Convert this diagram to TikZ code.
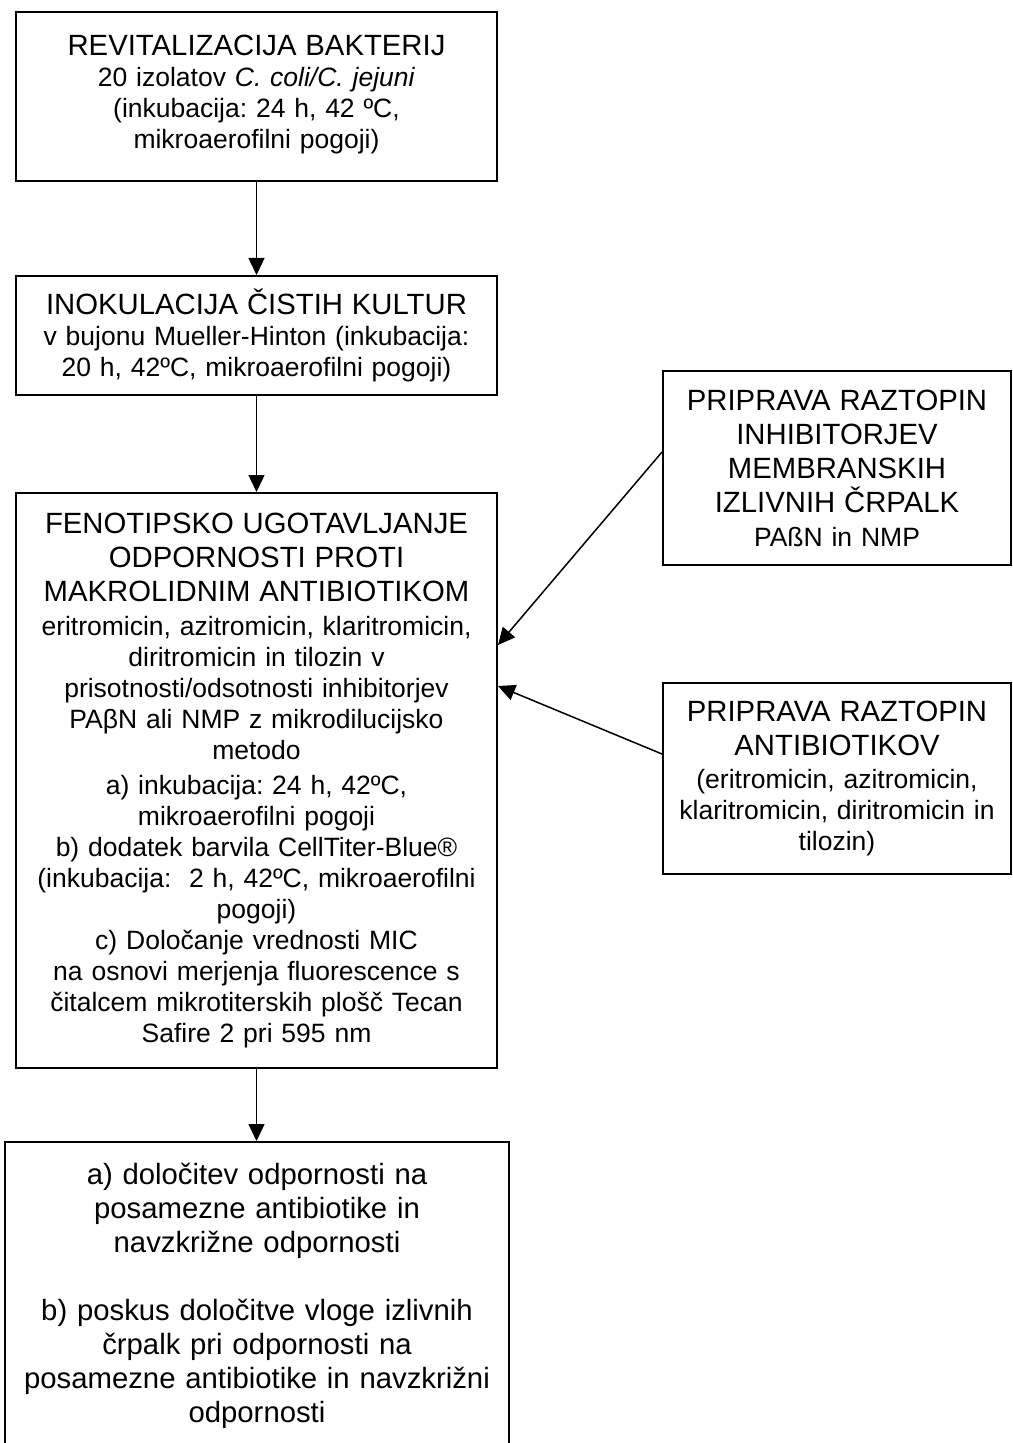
\documentclass[tikz,border=0pt]{standalone}
\usepackage{fontspec}
\setmainfont{Liberation Sans}
\usetikzlibrary{arrows.meta,calc}
\newcommand\bigf{\fontsize{14.65pt}{17pt}\selectfont}
\newcommand\smlf{\fontsize{13.25pt}{15.5pt}\selectfont}
\frenchspacing
\begin{document}
\begin{tikzpicture}[x=0.5pt,y=-0.5pt,
  box/.style={draw,line width=1pt,inner sep=0pt,align=center,font=\smlf},
  arr/.style={line width=0.75pt,-{Triangle[length=8.5pt,width=8pt]}}]
\useasboundingbox[fill=white] (0,0) rectangle (1012,1443);

\node[box,minimum width=240.5pt,minimum height=84.5pt,text width=236pt] (b1) at (256.5,96.5)
  {{\bigf REVITALIZACIJA BAKTERIJ}\\
   20 izolatov \textit{C. coli/C. jejuni}\\
   (inkubacija: 24 h, 42 ºC,\\
   mikroaerofilni pogoji)\\[-10.5pt]\mbox{}};

\node[box,minimum width=240.5pt,minimum height=59.5pt,text width=236pt] (b2) at (256.5,335.5)
  {{\bigf INOKULACIJA ČISTIH KULTUR}\\
   v bujonu Mueller-Hinton (inkubacija:\\
   20 h, 42ºC, mikroaerofilni pogoji)};

\node[box,minimum width=240.5pt,minimum height=287.5pt,text width=236pt] (b3) at (256.5,780.5)
  {{\bigf FENOTIPSKO UGOTAVLJANJE}\\[1.5pt]
   {\bigf ODPORNOSTI PROTI}\\[1.5pt]
   {\bigf MAKROLIDNIM ANTIBIOTIKOM}\\[1.5pt]
   eritromicin, azitromicin, klaritromicin,\\
   diritromicin in tilozin v\\
   prisotnosti/odsotnosti inhibitorjev\\
   PAβN ali NMP z mikrodilucijsko\\
   metodo\\[2.2pt]
   a) inkubacija: 24 h, 42ºC,\\
   mikroaerofilni pogoji\\
   b) dodatek barvila CellTiter-Blue®\\
   (inkubacija:\ \ 2 h, 42ºC, mikroaerofilni\\
   pogoji)\\
   c) Določanje vrednosti MIC\\
   na osnovi merjenja fluorescence s\\
   čitalcem mikrotiterskih plošč Tecan\\
   Safire 2 pri 595 nm};

\node[box,font=\bigf,minimum width=252pt,minimum height=154pt,text width=248pt] (b4) at (257,1296)
  {a) določitev odpornosti na\\
   posamezne antibiotike in\\
   navzkrižne odpornosti\\[17pt]
   b) poskus določitve vloge izlivnih\\
   črpalk pri odpornosti na\\
   posamezne antibiotike in navzkrižni\\
   odpornosti};

\node[box,minimum width=174pt,minimum height=97pt,text width=172pt] (r1) at (837,468)
  {{\bigf PRIPRAVA RAZTOPIN}\\[1.5pt]
   {\bigf INHIBITORJEV}\\[1.5pt]
   {\bigf MEMBRANSKIH}\\[1.5pt]
   {\bigf IZLIVNIH ČRPALK}\\[1.5pt]
   PAßN in NMP};

\node[box,minimum width=174pt,minimum height=95.5pt,text width=172pt] (r2) at (837,778.5)
  {{\bigf PRIPRAVA RAZTOPIN}\\[1.5pt]
   {\bigf ANTIBIOTIKOV}\\[1pt]
   (eritromicin, azitromicin,\\
   klaritromicin, diritromicin in\\
   tilozin)};

\draw[arr] (b1.south) -- (b2.north);
\draw[arr] (b2.south) -- (b3.north);
\draw[arr] (b3.south) -- (b3.south |- b4.north);
\draw[arr] ([yshift=8pt]r1.west) -- ([yshift=67.75pt]b3.east);
\draw[arr] ([yshift=12.25pt]r2.west) -- ([yshift=47.25pt]b3.east);
\end{tikzpicture}
\end{document}
